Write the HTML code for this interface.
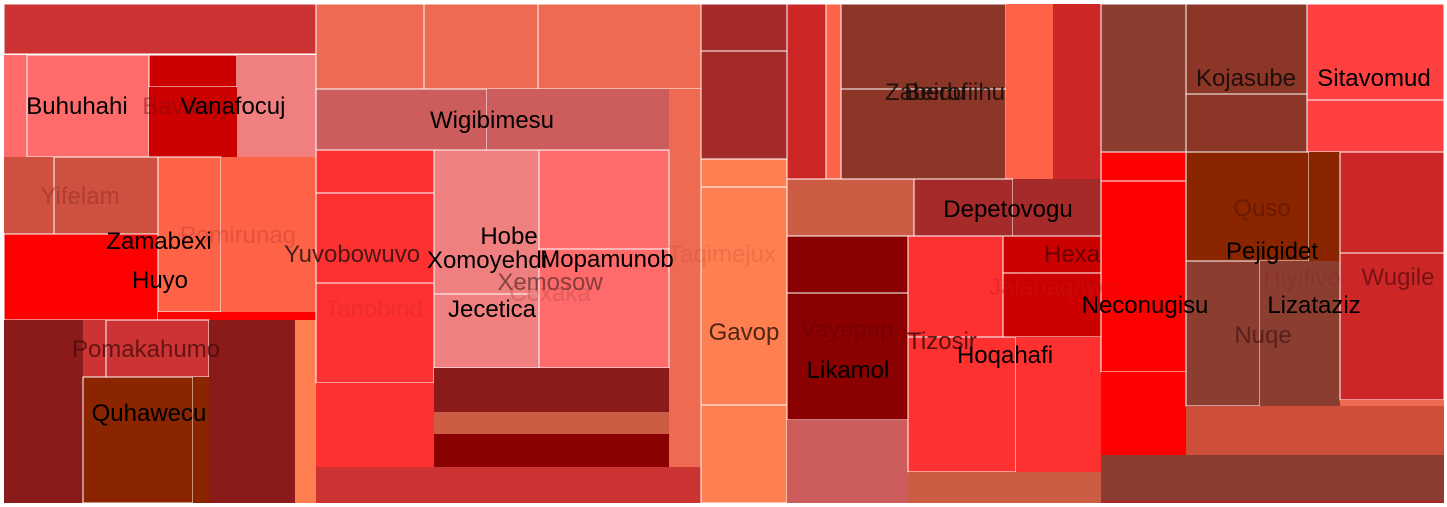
<!DOCTYPE html>
<html><head><meta charset="utf-8"><style>
html,body{margin:0;padding:0;background:#fff;}
svg{display:block;}
text{font-family:"Liberation Sans",Arial,sans-serif;font-size:24px;text-anchor:middle;}
</style></head><body>
<svg id="chart" width="1447" height="507" xmlns="http://www.w3.org/2000/svg">
<g id="cells"></g><g id="labels"></g>
</svg>
<script>
// treemap cells: [x1,y1,x2,y2,color,whiteBorder]
const cellX1=[4,4,27,149,149,237,4,54,158,221,4,158,4,83,106,83,193,209,295,
316,424,538,316,487,669,316,316,316,316,434,539,539,434,434,434,434,316,
701,701,701,701,701,
787,826,841,841,1006,1053,787,914,1013,787,787,787,908,1003,1003,908,1016,908,
1101,1186,1186,1307,1307,1101,1101,1101,1186,1309,1186,1260,1340,1340,1340,1186,1101,1101];
const cellY1=[4,55,55,55,87,55,157,157,157,157,234,312,320,320,320,377,377,320,320,
4,4,4,89,89,89,150,193,283,383,150,150,249,294,368,412,434,467,
4,51,159,187,405,
4,4,4,89,4,4,179,179,179,236,293,420,236,236,273,337,337,472,
4,4,94,4,100,152,181,372,152,152,261,261,152,253,400,406,455,500];
const cellX2=[316,27,149,237,237,316,54,158,221,316,158,316,83,106,209,193,209,295,316,
424,538,701,487,669,701,434,434,434,434,539,669,669,539,669,669,669,701,
787,787,787,787,787,
826,841,1006,1006,1053,1101,914,1013,1101,908,908,908,1003,1101,1101,1016,1101,1101,
1186,1307,1307,1444,1444,1186,1186,1186,1309,1340,1260,1340,1444,1444,1444,1444,1444,1444];
const cellY2=[54,157,157,87,157,157,234,234,312,312,320,320,503,377,377,503,503,503,503,
89,89,89,150,150,467,193,283,383,467,294,249,368,368,412,434,467,503,
51,159,187,405,503,
179,179,89,179,179,179,236,236,236,293,420,503,337,273,337,472,472,503,
152,94,152,100,152,181,372,455,261,261,406,406,253,400,406,455,500,503];
const cellColor=["#CC3333","#FF6B6B","#FF6B6B","#CC0000","#CC0000","#F08080","#CD5040","#CD5040","#FF6347","#FF6347","#FF0000","#FF0000","#8B1A1A","#CC3333","#CC3333","#8B2500","#8B2500","#8B1A1A","#FF7F50",
"#EE6A50","#EE6A50","#EE6A50","#CD5C5C","#CD5C5C","#EE6A50","#FF3030","#FF3030","#FF3030","#FF3030","#F08080","#FF6B6B","#FF6B6B","#F08080","#8B1A1A","#CD5C45","#8B0000","#CC3333",
"#A52A2A","#A52A2A","#FF7F50","#FF7F50","#FF7F50",
"#CD2626","#FF6347","#8B3626","#8B3626","#FF6347","#CD2626","#CD5C45","#A52A2A","#A52A2A","#8B0000","#8B0000","#CD5C5C","#FF3030","#CC0000","#CC0000","#FF3030","#FF3030","#CD5C45",
"#8B3E2F","#8B3626","#8B3626","#FF4040","#FF4040","#FF0000","#FF0000","#FF0000","#8B2500","#8B2500","#8B3E2F","#8B3E2F","#CD2626","#CD2626","#EE6A50","#CD4F39","#8B3E2F","#A52A2A"];
const cellBorder=[1,0,1,1,0,0,0,1,1,0,1,0,0,0,1,1,0,0,0,
1,1,1,1,0,0,1,1,1,0,1,1,1,1,0,0,0,0,
1,1,1,1,1,
1,1,1,1,0,0,1,1,0,1,1,0,1,1,1,1,0,0,
1,1,1,1,1,1,1,0,1,0,1,0,1,1,0,0,0,0];
// labels
const labelText=["Buhuhahi","Bavaoyj","Vanafocuj","Yifelam","Pomirunag","Zamabexi","Huyo","Yuvobowuvo","Pomakahumo","Ahahaji","Quhawecu","Wigibimesu","Hobe","Xomoyehdi","Mopamunob","Cexaka","Xemosow","Tanobirid","Jecetica","Taqimejux","Gavop","Zaberofiihu","Beidu","Depetovogu","Hexa","Jalabaqawo","Vayepap","Tizosir","Hoqahafi","Likamol","Neconugisu","Kojasube","Sitavomud","Quso","Pejigidet","Hiyifivo","Wugile","Lizataziz","Nuqe"];
const labelX=[77,185,233,80,238,159,160,352,146,175,149,492,509,487,607,550,550,374,492,722,744,945,935,1008,1072,1053,847,942,1005,848,1145,1246,1374,1262,1272,1302,1398,1314,1263];
const labelY=[114,114,114,204,243,249,288,262,357,420,421,128,244,268,267,301,290,317,317,262,340,100,100,217,262,295,337,349,363,378,313,86,86,216,259,286,285,313,343];
const labelFill=["#000","rgba(120,10,10,0.45)","#000","rgba(140,40,30,0.45)","rgba(170,40,30,0.3)","#000","#000","rgba(40,20,20,0.85)","rgba(70,10,10,0.75)","rgba(120,40,10,0.3)","#000","#000","#000","#000","#000","rgba(200,80,80,0.5)","rgba(90,40,40,0.7)","rgba(200,40,40,0.3)","#000","rgba(200,80,60,0.3)","rgba(50,20,10,0.85)","rgba(20,10,10,0.85)","rgba(20,10,10,0.85)","#000","rgba(80,0,0,0.8)","rgba(190,30,30,0.35)","rgba(100,0,0,0.5)","rgba(60,10,10,0.85)","#000","#000","#000","rgba(20,10,10,0.9)","#000","rgba(90,20,0,0.6)","#000","rgba(140,40,40,0.45)","rgba(100,15,15,0.8)","#000","rgba(70,20,20,0.7)"];

const NS="http://www.w3.org/2000/svg";
const gc=document.getElementById('cells'), gl=document.getElementById('labels');
for(let i=0;i<cellX1.length;i++){
  const r=document.createElementNS(NS,'rect');
  r.setAttribute('x',cellX1[i]);r.setAttribute('y',cellY1[i]);
  r.setAttribute('width',cellX2[i]-cellX1[i]);r.setAttribute('height',cellY2[i]-cellY1[i]);
  r.setAttribute('fill',cellColor[i]);
  if(cellBorder[i]){r.setAttribute('stroke','#fff');r.setAttribute('stroke-width','1');}
  
  
  gc.appendChild(r);
}
for(let i=0;i<labelText.length;i++){
  const t=document.createElementNS(NS,'text');
  t.setAttribute('x',labelX[i]);t.setAttribute('y',labelY[i]);
  t.setAttribute('fill',labelFill[i]);
  t.textContent=labelText[i];
  
  
  gl.appendChild(t);
}
</script>
</body></html>
